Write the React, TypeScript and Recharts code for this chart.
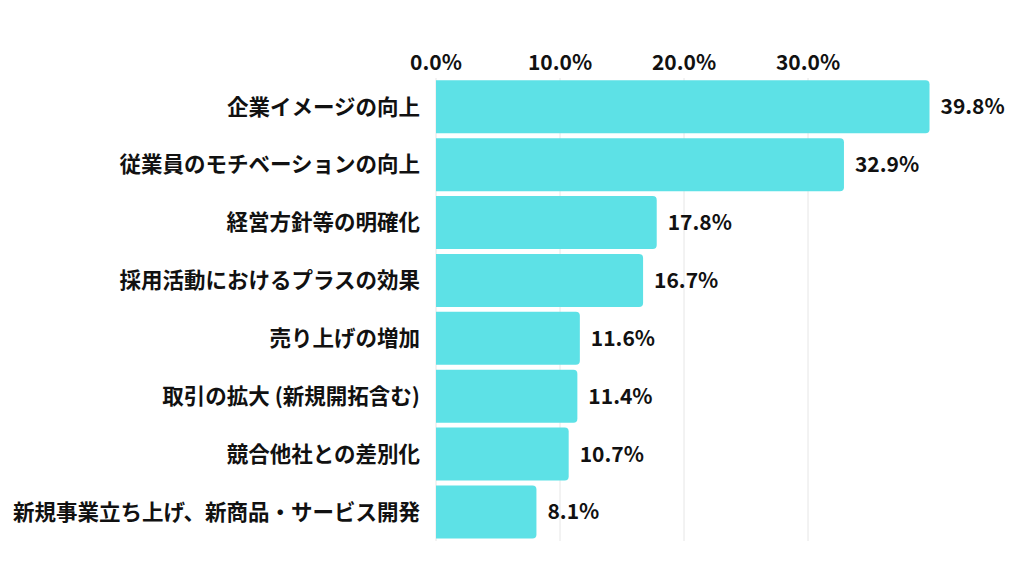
import { BarChart, Bar, XAxis, YAxis, CartesianGrid, LabelList } from 'recharts'

// Survey results: effects of the initiative (percent of respondents)
const CATEGORIES = [
  '企業イメージの向上',
  '従業員のモチベーションの向上',
  '経営方針等の明確化',
  '採用活動におけるプラスの効果',
  '売り上げの増加',
  '取引の拡大 (新規開拓含む)',
  '競合他社との差別化',
  '新規事業立ち上げ、新商品・サービス開発',
]
const VALUES = [39.8, 32.9, 17.8, 16.7, 11.6, 11.4, 10.7, 8.1]
const X_TICKS = [0, 10, 20, 30]
const X_MAX = 40

const BAR = '#5de1e6'
const INK = '#111111'
const FONT = '"Noto Sans CJK JP", "Noto Sans", sans-serif'

const data = CATEGORIES.map((name, i) => ({ name, value: VALUES[i] }))
const pct = (v: number) => `${Number(v).toFixed(1)}%`

// grid lines only at the labelled ticks (no line at the 40% domain edge)
const gridX = ({ xAxis, offset }: any) =>
  X_TICKS.map((t) =>
    typeof xAxis?.scale === 'function' ? xAxis.scale(t) : offset.left + (t / X_MAX) * offset.width
  )

export default function App() {
  return (
    <div style={{ position: 'absolute', left: 0, top: 0, width: 1024, height: 576, background: '#fff', fontFamily: FONT }}>
      <BarChart
        width={1024}
        height={576}
        data={data}
        layout="vertical"
        margin={{ top: 0, right: 92, bottom: 35, left: 0 }}
        barCategoryGap="4%"
      >
        <CartesianGrid horizontal={false} stroke="#e6e6e6" verticalCoordinatesGenerator={gridX} />
        <XAxis
          type="number"
          orientation="top"
          height={78}
          domain={[0, X_MAX]}
          ticks={X_TICKS}
          tickFormatter={pct}
          axisLine={false}
          tickLine={false}
          tick={{ fill: INK, fontSize: 21, fontWeight: 700, fontFamily: FONT }}
        />
        <YAxis
          type="category"
          dataKey="name"
          width={436}
          axisLine={false}
          tickLine={false}
          tickMargin={10}
          interval={0}
          tick={{ fill: INK, fontSize: 21.5, fontWeight: 700, fontFamily: FONT }}
        />
        <Bar dataKey="value" fill={BAR} radius={[0, 4, 4, 0]} isAnimationActive={false}>
          <LabelList
            dataKey="value"
            position="right"
            offset={11}
            formatter={(v: any) => pct(v)}
            style={{ fill: INK, fontSize: 21, fontWeight: 700, fontFamily: FONT }}
          />
        </Bar>
      </BarChart>
    </div>
  )
}
